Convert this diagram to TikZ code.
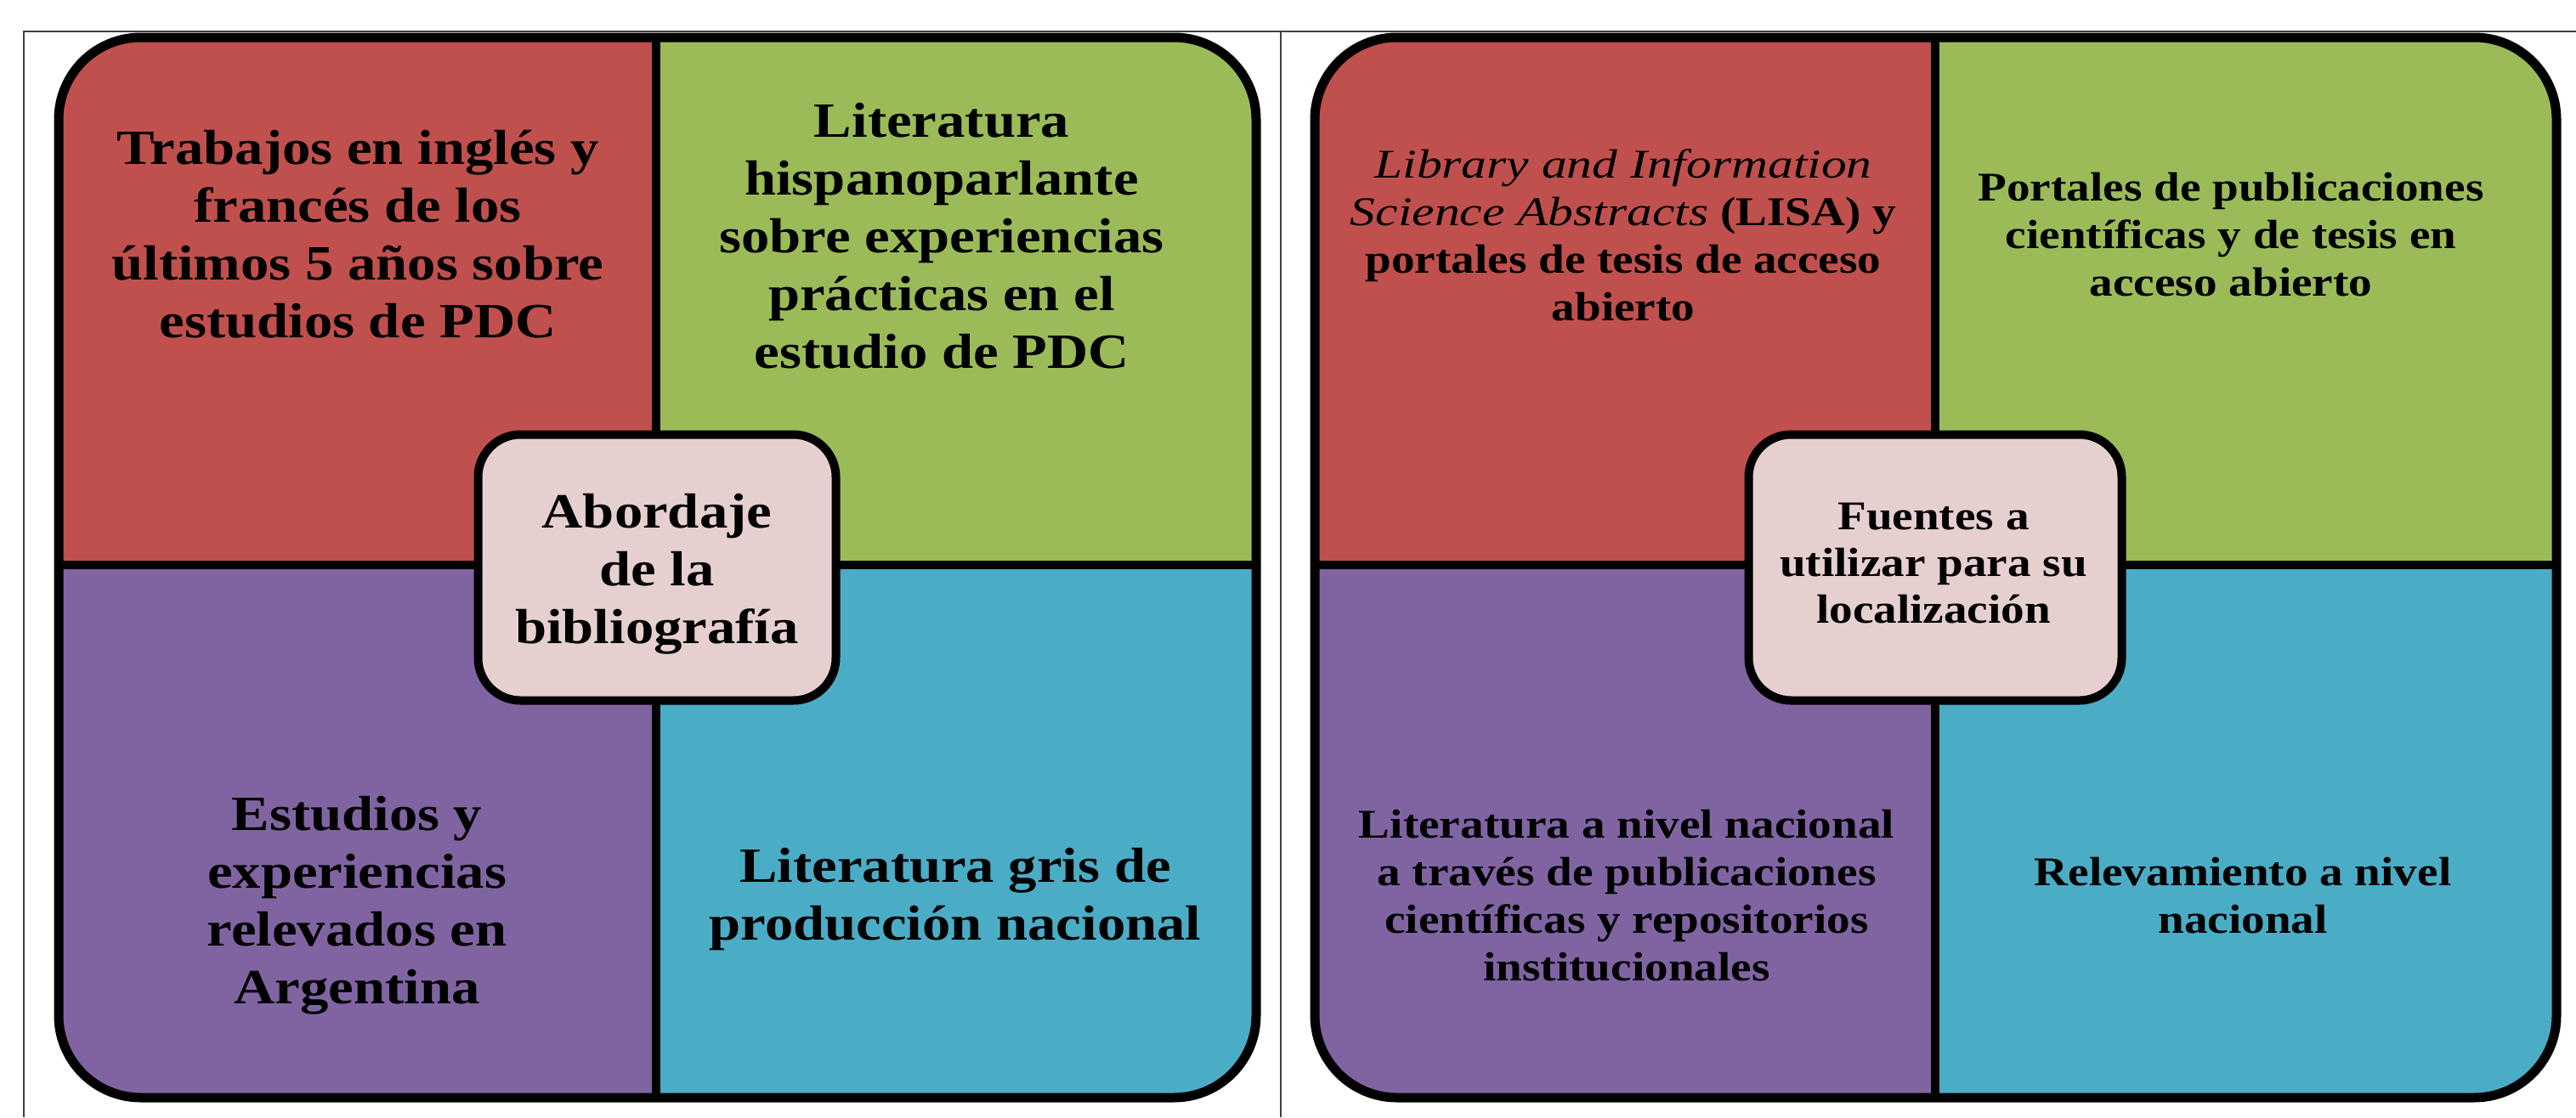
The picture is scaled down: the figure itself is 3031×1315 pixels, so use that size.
\documentclass[tikz,border=0pt]{standalone}
\usepackage{fontspec}
\setmainfont{Liberation Serif}[FakeStretch=1.15]
\newfontfamily\itwide{Liberation Serif}[FakeStretch=1.24]
\definecolor{qred}{HTML}{C0504D}
\definecolor{qgreen}{HTML}{9BBB59}
\definecolor{qpurple}{HTML}{8064A2}
\definecolor{qblue}{HTML}{4BACC6}
\definecolor{hubfill}{HTML}{E6D0CF}
\tikzset{
  panelborder/.style={draw=black, line width=3.3pt, rounded corners=29pt},
  divider/.style={draw=black, line width=3pt},
  hub/.style={draw=black, line width=3pt, fill=hubfill, rounded corners=15pt, inner sep=0pt},
  bigtxt/.style={align=center, font=\bfseries\fontsize{17.4pt}{20.4pt}\selectfont, inner sep=0pt},
  smalltxt/.style={align=center, font=\bfseries\fontsize{14.4pt}{16.8pt}\selectfont, inner sep=0pt},
  hubsmall/.style={align=center, font=\bfseries\fontsize{14.4pt}{16.4pt}\selectfont, inner sep=0pt},
  tableline/.style={draw=black!75, line width=0.8pt}
}
\begin{document}
\begin{tikzpicture}[x=0.3pt,y=-0.3pt]
\useasboundingbox (0,0) rectangle (3031,1315);
% table lines
\draw[tableline] (28,1315) -- (28,37) -- (3031,37);
\draw[tableline] (1507,37) -- (1507,1315);

% ---------- left panel ----------
\begin{scope}
  \clip[rounded corners=29pt] (69,44) rectangle (1478,1292);
  \fill[qred] (69,44) rectangle (772,665);
  \fill[qgreen] (772,44) rectangle (1478,665);
  \fill[qpurple] (69,665) rectangle (772,1292);
  \fill[qblue] (772,665) rectangle (1478,1292);
\end{scope}
\draw[divider] (772,44) -- (772,1292);
\draw[divider] (69,665) -- (1478,665);
\draw[panelborder] (69,44) rectangle (1478,1292);

\node[bigtxt] (l1) at (421,276) {Trabajos en inglés y\\francés de los\\últimos 5 años sobre\\estudios de PDC};
\node[bigtxt] (l2) at (1108,278) {Literatura\\hispanoparlante\\sobre experiencias\\prácticas en el\\estudio de PDC};
\node[bigtxt] (l3) at (420,1066) {Estudios y\\experiencias\\relevados en\\Argentina};
\node[bigtxt] (l4) at (1124,1059) {Literatura gris de\\producción nacional};
\node[hub, minimum width=126.3pt, minimum height=93.9pt] (lc) at (773,668) {};
\node[bigtxt] (lct) at (773,676) {Abordaje\\de la\\bibliografía};

% ---------- right panel ----------
\begin{scope}
  \clip[rounded corners=29pt] (1547,44) rectangle (3008,1292);
  \fill[qred] (1547,44) rectangle (2277,665);
  \fill[qgreen] (2277,44) rectangle (3008,665);
  \fill[qpurple] (1547,665) rectangle (2277,1292);
  \fill[qblue] (2277,665) rectangle (3008,1292);
\end{scope}
\draw[divider] (2277,44) -- (2277,1292);
\draw[divider] (1547,665) -- (3008,665);
\draw[panelborder] (1547,44) rectangle (3008,1292);

\node[smalltxt] (r1) at (1910,277) {{\itwide\mdseries\itshape Library and Information}\\{\itwide\mdseries\itshape Science Abstracts} (LISA) y\\portales de tesis de acceso\\abierto};
\node[smalltxt] (r2) at (2625,276) {Portales de publicaciones\\científicas y de tesis en\\acceso abierto};
\node[smalltxt] (r3) at (1914,1054) {Literatura a nivel nacional\\a través de publicaciones\\científicas y repositorios\\institucionales};
\node[smalltxt] (r4) at (2639,1054) {Relevamiento a nivel\\nacional};
\node[hub, minimum width=131.7pt, minimum height=93.9pt] (rc) at (2277,668) {};
\node[hubsmall] (rct) at (2275,663) {Fuentes a\\utilizar para su\\localización};
\end{tikzpicture}
\end{document}
